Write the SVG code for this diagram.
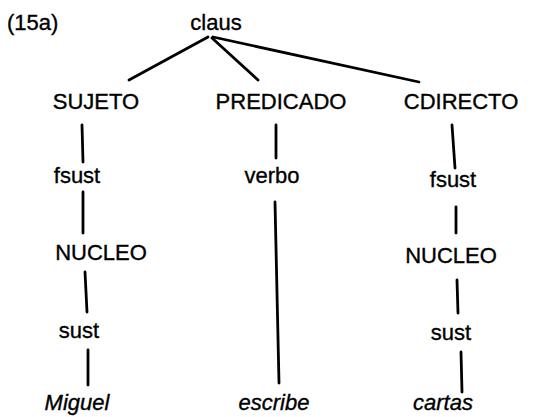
<svg xmlns="http://www.w3.org/2000/svg" width="556" height="417" viewBox="0 0 556 417">
<style>
text{font-family:"Liberation Sans",Arial,sans-serif;font-size:22px;fill:#000;stroke:#000;stroke-width:0.35;text-anchor:middle}
.it{font-style:italic}
.lbl{text-anchor:start}
#edges line{stroke:#000;stroke-width:2.8;stroke-linecap:round}
</style>
<rect width="556" height="417" fill="#fff"/>
<text class="lbl" x="7" y="30">(15a)</text>
<g id="edges">
<line x1="208" y1="37" x2="129" y2="80"/>
<line x1="212" y1="38" x2="258" y2="80"/>
<line x1="213" y1="37" x2="419" y2="82"/>
<line x1="82" y1="125" x2="83" y2="162"/>
<line x1="83" y1="192" x2="83" y2="233"/>
<line x1="85" y1="272" x2="87" y2="312"/>
<line x1="88" y1="350" x2="88" y2="385"/>
<line x1="276" y1="125" x2="276" y2="158"/>
<line x1="275" y1="202" x2="279" y2="383"/>
<line x1="452" y1="125" x2="455" y2="168"/>
<line x1="456" y1="207" x2="456" y2="233"/>
<line x1="457" y1="280" x2="458" y2="313"/>
<line x1="461" y1="352" x2="462" y2="392"/>
</g>
<g id="n-claus"><text x="216" y="30">claus</text></g>
<g id="n-sujeto"><text x="96" y="109">SUJETO</text></g>
<g id="n-predicado"><text x="281" y="109">PREDICADO</text></g>
<g id="n-cdirecto"><text x="461" y="109">CDIRECTO</text></g>
<g id="n-fsust1"><text x="77" y="183">fsust</text></g>
<g id="n-verbo"><text x="272" y="183">verbo</text></g>
<g id="n-fsust2"><text x="453" y="187">fsust</text></g>
<g id="n-nucleo1"><text x="101" y="260">NUCLEO</text></g>
<g id="n-nucleo2"><text x="451" y="263">NUCLEO</text></g>
<g id="n-sust1"><text x="79" y="338">sust</text></g>
<g id="n-sust2"><text x="451" y="340">sust</text></g>
<g id="n-miguel"><text class="it" x="77" y="410">Miguel</text></g>
<g id="n-escribe"><text class="it" x="274" y="410">escribe</text></g>
<g id="n-cartas"><text class="it" x="443" y="410">cartas</text></g>
</svg>
